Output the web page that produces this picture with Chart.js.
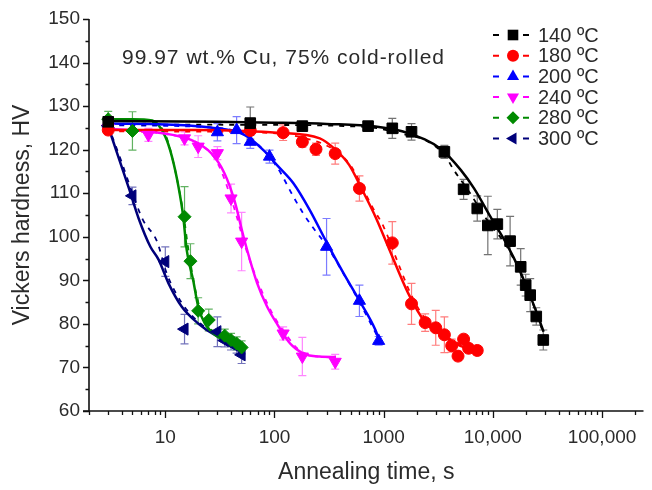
<!DOCTYPE html>
<html>
<head>
<meta charset="utf-8">
<script src="https://cdn.jsdelivr.net/npm/chart.js@4/dist/chart.umd.min.js"></script>
<style>
  html, body { margin: 0; padding: 0; background: #fff; }
  #wrap { width: 652px; height: 490px; }
</style>
</head>
<body>
<div id="wrap"><canvas id="c" width="652" height="490"></canvas></div>
<script>
// Series labels (annealing temperature)
const labels = ['140 ºC', '180 ºC', '200 ºC', '240 ºC', '280 ºC', '300 ºC'];

// Measured hardness: annealing time (s), HV, and error (±HV)
const t140 = [3, 60, 180, 720, 1200, 1800, 3600, 5400, 7200, 9000, 11000, 14400, 18000, 20000, 22000, 25000, 29000];
const hv140 = [126.4, 126.1, 125.4, 125.4, 124.9, 124.1, 119.5, 110.9, 106.5, 102.6, 102.9, 99.0, 93.1, 88.9, 86.6, 81.7, 76.3];
const err140 = [1.0, 3.7, 1.0, 1.0, 2.3, 1.9, 1.5, 2.3, 2.9, 6.7, 3.4, 5.7, 4.2, 2.5, 3.8, 2.0, 2.3];

const t180 = [3, 60, 120, 180, 240, 360, 600, 1200, 1800, 2400, 3000, 3600, 4200, 4800, 5400, 6000, 7200];
const hv180 = [124.5, 124.4, 123.9, 121.8, 120.1, 119.1, 111.1, 98.6, 84.6, 80.3, 79.1, 77.5, 75.0, 72.6, 76.5, 74.4, 73.9];
const err180 = [1.0, 1.0, 1.8, 1.2, 1.4, 2.4, 2.9, 4.9, 4.7, 2.0, 4.0, 4.1, 1.5, 1.0, 1.0, 1.0, 1.0];

const t200 = [3, 30, 45, 60, 90, 300, 600, 900];
const hv200 = [125.8, 124.0, 124.5, 121.8, 118.4, 97.7, 85.3, 76.1];
const err200 = [1.5, 2.0, 3.1, 1.5, 1.5, 6.5, 3.6, 1.0];

const t240 = [3, 7, 15, 20, 30, 40, 50, 120, 180, 360];
const hv240 = [125.0, 123.4, 122.6, 120.7, 119.2, 108.8, 98.9, 77.8, 72.5, 71.3];
const err240 = [1.5, 1.5, 1.5, 2.5, 1.5, 3.3, 6.7, 1.5, 4.4, 1.7];

const t280 = [3, 5, 15, 17, 20, 25, 35, 40, 45, 50];
const hv280 = [127.0, 124.3, 104.6, 94.4, 83.0, 80.9, 77.3, 76.3, 75.5, 74.6];
const err280 = [1.8, 4.4, 6.9, 4.0, 3.0, 2.5, 1.5, 1.5, 1.5, 1.5];

const t300 = [3, 5, 10, 15, 30, 35, 40, 45, 50];
const hv300 = [125.5, 109.4, 94.3, 78.8, 78.2, 76.2, 75.5, 74.8, 72.9];
const err300 = [1.5, 2.0, 3.4, 3.4, 3.4, 1.5, 1.5, 1.5, 2.0];

// Solid fitted softening curves (time, HV)
const fit140T = [3, 30, 100, 300, 840, 1680, 3370, 5100, 6730, 9500, 13400, 17700, 23400, 29200];
const fit140HV = [126.6, 126.4, 126.2, 125.9, 125.3, 123.8, 120.1, 115.3, 111.1, 104.6, 98.3, 92.2, 84.7, 78.2];

const fit180T = [3, 20, 53, 105, 260, 366, 483, 638, 841, 1110, 1680, 2380, 3360, 5100, 7300];
const fit180HV = [124.5, 124.5, 124.3, 123.9, 122.6, 119.9, 116.5, 110.7, 104.6, 97.5, 87.0, 80.5, 77.5, 74.9, 74.3];

const fit200T = [3, 10, 26, 53, 80, 105, 149, 210, 298, 421, 595, 841, 914];
const fit200HV = [126.0, 125.8, 125.1, 123.4, 119.8, 116.5, 112.3, 106.2, 98.9, 92.0, 85.5, 78.6, 76.1];

const fit240T = [3, 8.7, 17.4, 26.3, 34.8, 42.9, 52.7, 69.5, 85.5, 105, 139, 184, 259, 366];
const fit240HV = [124.8, 123.9, 122.2, 119.2, 114.6, 108.4, 99.5, 89.3, 84.0, 80.1, 75.5, 73.2, 72.5, 72.4];

const fit280T = [3, 5, 7.6, 10, 11.5, 13.2, 14.6, 15.7, 18, 20, 23, 30, 43, 54];
const fit280HV = [127.0, 127.0, 126.7, 123.0, 118.4, 111.5, 104.6, 97.0, 90.0, 84.0, 80.1, 77.1, 75.2, 74.0];

const fit300T = [3, 3.8, 4.7, 5.7, 7.3, 8.7, 10.7, 14.1, 20, 30, 46, 53];
const fit300HV = [125.3, 117.6, 110.7, 104.2, 97.7, 94.7, 89.3, 84.0, 80.1, 77.1, 75.2, 74.4];

// Dashed alternative-model curves (time, HV)
const dash140T = [3, 60, 700, 1500, 2400, 3600, 4400, 6000, 9000, 13400, 18000, 24000, 29500];
const dash140HV = [125.8, 125.7, 125.2, 123.6, 122.2, 118.8, 115.3, 110.5, 103.6, 97.8, 91.5, 83.8, 77.3];

const dash180T = [3, 60, 180, 360, 500, 785, 1000, 1320, 1800, 2400, 3600, 5400, 7200];
const dash180HV = [124.2, 124.0, 122.8, 119.8, 116.3, 106.9, 102.3, 94.7, 86.5, 81.2, 77.4, 75.0, 74.3];

const dash200T = [3, 30, 60, 105, 149, 183, 233, 300, 392, 600, 900];
const dash200HV = [125.6, 125.0, 122.6, 116.1, 109.2, 105.4, 101.6, 98.0, 93.2, 85.0, 76.6];

const dash240T = [3, 10, 20, 30, 41.4, 56.5, 88.6, 120, 180, 360];
const dash240HV = [124.5, 123.6, 121.5, 117.0, 107.7, 96.2, 84.0, 78.5, 73.5, 72.2];

const dash280T = [3, 7.6, 10, 12, 14.6, 16.5, 20, 25, 35, 50];
const dash280HV = [126.8, 126.3, 123.5, 116.5, 105.5, 96.0, 85.0, 79.5, 76.5, 74.4];

const dash300T = [3, 4, 5, 6.2, 8.4, 10.3, 14, 20, 30, 50];
const dash300HV = [125.5, 117.0, 110.0, 104.0, 98.9, 91.6, 85.0, 80.5, 77.6, 74.2];

// Axis ranges and tick labels
const xMin = 2, xMax = 240000;
const yMin = 60, yMax = 150, yStep = 10;
const xTickLabels = { 10: '10', 100: '100', 1000: '1000', 10000: '10,000', 100000: '100,000' };

const FONT = "'Liberation Sans', Arial, Helvetica, sans-serif";
const TEXT = '#2b2b2b';

const styles = [
  { color: '#000000', err: 'rgba(90,90,90,0.85)', shape: 'rect', rot: 0, r: 7.5 },
  { color: '#ff0000', err: 'rgba(255,110,110,0.9)', shape: 'circle', rot: 0, r: 6 },
  { color: '#0000ff', err: 'rgba(110,110,255,0.9)', shape: 'triangle', rot: 0, r: 7 },
  { color: '#ff00ff', err: 'rgba(255,120,255,0.9)', shape: 'triangle', rot: 180, r: 7 },
  { color: '#008a00', err: 'rgba(80,170,80,0.9)', shape: 'rectRot', rot: 0, r: 6.5 },
  { color: '#00007a', err: 'rgba(100,100,180,0.9)', shape: 'triangle', rot: 270, r: 7 }
];

const series = [
  { t: t140, hv: hv140, err: err140, ft: fit140T, fhv: fit140HV, dt: dash140T, dhv: dash140HV },
  { t: t180, hv: hv180, err: err180, ft: fit180T, fhv: fit180HV, dt: dash180T, dhv: dash180HV },
  { t: t200, hv: hv200, err: err200, ft: fit200T, fhv: fit200HV, dt: dash200T, dhv: dash200HV },
  { t: t240, hv: hv240, err: err240, ft: fit240T, fhv: fit240HV, dt: dash240T, dhv: dash240HV },
  { t: t280, hv: hv280, err: err280, ft: fit280T, fhv: fit280HV, dt: dash280T, dhv: dash280HV },
  { t: t300, hv: hv300, err: err300, ft: fit300T, fhv: fit300HV, dt: dash300T, dhv: dash300HV }
];

const pairs = (xs, ys) => xs.map((x, i) => ({ x, y: ys[i] }));

const datasets = [];
series.forEach((s, i) => {
  const st = styles[i];
  datasets.push({
    label: labels[i],
    data: pairs(s.t, s.hv),
    showLine: false,
    pointStyle: st.shape,
    pointRotation: st.rot,
    pointRadius: st.r,
    pointHoverRadius: st.r,
    pointBackgroundColor: st.color,
    pointBorderColor: st.color,
    pointBorderWidth: 1,
    order: 0
  });
  datasets.push({
    label: labels[i] + ' fit',
    data: pairs(s.ft, s.fhv),
    showLine: true,
    borderColor: st.color,
    borderWidth: 2.5,
    pointRadius: 0,
    cubicInterpolationMode: 'monotone',
    order: 1
  });
  datasets.push({
    label: labels[i] + ' model',
    data: pairs(s.dt, s.dhv),
    showLine: true,
    borderColor: st.color,
    borderWidth: 1.8,
    borderDash: [5, 6],
    pointRadius: 0,
    cubicInterpolationMode: 'monotone',
    order: 2
  });
});

// Error bars with caps, drawn beneath the markers
const errorBars = {
  id: 'errorBars',
  beforeDatasetsDraw(chart) {
    const { ctx, scales: { x, y } } = chart;
    ctx.save();
    ctx.lineWidth = 1.2;
    series.forEach((s, i) => {
      ctx.strokeStyle = styles[i].err;
      s.t.forEach((t, j) => {
        const px = x.getPixelForValue(t);
        const top = y.getPixelForValue(s.hv[j] + s.err[j]);
        const bot = y.getPixelForValue(s.hv[j] - s.err[j]);
        ctx.beginPath();
        ctx.moveTo(px, top); ctx.lineTo(px, bot);
        ctx.moveTo(px - 4, top); ctx.lineTo(px + 4, top);
        ctx.moveTo(px - 4, bot); ctx.lineTo(px + 4, bot);
        ctx.stroke();
      });
    });
    ctx.restore();
  }
};

// Axis lines with outward major/minor ticks
const axesFrame = {
  id: 'axesFrame',
  afterDraw(chart) {
    const { ctx, chartArea: a, scales: { x, y } } = chart;
    ctx.save();
    ctx.strokeStyle = '#111';
    ctx.lineWidth = 1.6;
    ctx.beginPath();
    ctx.moveTo(a.left, a.top); ctx.lineTo(a.left, a.bottom);
    ctx.moveTo(a.left - 6, a.bottom); ctx.lineTo(a.right, a.bottom);
    ctx.stroke();
    ctx.lineWidth = 1.3;
    ctx.beginPath();
    for (let v = yMin; v <= yMax; v += yStep / 2) {
      const py = Math.round(y.getPixelForValue(v)) + 0.5;
      const len = (v % yStep === 0) ? 6 : 3.5;
      ctx.moveTo(a.left, py); ctx.lineTo(a.left - len, py);
    }
    for (let d = 0; d <= 5; d++) {
      for (let m = 1; m <= 9; m++) {
        const v = m * Math.pow(10, d);
        if (v < xMin || v > xMax) continue;
        const px = Math.round(x.getPixelForValue(v)) + 0.5;
        const len = m === 1 ? 7 : 4;
        ctx.moveTo(px, a.bottom); ctx.lineTo(px, a.bottom + len);
      }
    }
    ctx.stroke();
    ctx.restore();
  }
};

// Material annotation and legend with dashed-line / marker samples
const annotations = {
  id: 'annotations',
  afterDraw(chart) {
    const { ctx } = chart;
    ctx.save();
    ctx.fillStyle = TEXT;
    ctx.font = '21px ' + FONT;
    ctx.textBaseline = 'middle';
    ctx.textAlign = 'left';
    if ('letterSpacing' in ctx) ctx.letterSpacing = '1px';
    ctx.fillText('99.97 wt.% Cu, 75% cold-rolled', 122, 58);
    if ('letterSpacing' in ctx) ctx.letterSpacing = '0px';

    const x0 = 513, y0 = 35, dy = 20.7;
    labels.forEach((lab, i) => {
      const st = styles[i];
      const yy = y0 + i * dy;
      ctx.strokeStyle = st.color;
      ctx.lineWidth = 2;
      ctx.beginPath();
      ctx.moveTo(x0 - 20, yy); ctx.lineTo(x0 - 14, yy);
      ctx.moveTo(x0 + 10, yy); ctx.lineTo(x0 + 16, yy);
      ctx.stroke();
      drawMarker(ctx, st, x0, yy);
      ctx.fillStyle = TEXT;
      ctx.font = '20px ' + FONT;
      ctx.fillText(lab, x0 + 25, yy + 1);
    });
    ctx.restore();
  }
};

function drawMarker(ctx, st, cx, cy) {
  ctx.save();
  ctx.fillStyle = st.color;
  ctx.translate(cx, cy);
  ctx.rotate(st.rot * Math.PI / 180);
  ctx.beginPath();
  const r = st.r;
  if (st.shape === 'rect') {
    const s = r * Math.SQRT1_2;
    ctx.rect(-s, -s, 2 * s, 2 * s);
  } else if (st.shape === 'circle') {
    ctx.arc(0, 0, r, 0, Math.PI * 2);
  } else if (st.shape === 'rectRot') {
    ctx.moveTo(0, -r); ctx.lineTo(r, 0); ctx.lineTo(0, r); ctx.lineTo(-r, 0);
  } else {
    const half = r * Math.sqrt(3) / 2;
    ctx.moveTo(0, -r); ctx.lineTo(half, r / 2); ctx.lineTo(-half, r / 2);
  }
  ctx.closePath();
  ctx.fill();
  ctx.restore();
}

new Chart(document.getElementById('c'), {
  type: 'scatter',
  data: { datasets },
  options: {
    responsive: false,
    animation: false,
    devicePixelRatio: 1,
    layout: { padding: { top: 19, right: 0, left: 0, bottom: 0 } },
    plugins: { legend: { display: false }, tooltip: { enabled: false } },
    scales: {
      x: {
        type: 'logarithmic',
        position: 'bottom',
        min: xMin,
        max: xMax,
        grid: { display: false, drawTicks: true, tickLength: 15 },
        border: { display: false },
        ticks: {
          autoSkip: false,
          maxRotation: 0,
          padding: 0,
          color: TEXT,
          font: { family: FONT, size: 19 },
          callback: (v) => xTickLabels[v] || ''
        },
        title: {
          display: true,
          text: 'Annealing time, s',
          color: TEXT,
          font: { family: FONT, size: 23 },
          padding: { top: 0, bottom: 4 }
        },
        afterFit: (s) => { s.height = 79; }
      },
      y: {
        min: yMin,
        max: yMax,
        grid: { display: false, drawTicks: true, tickLength: 9 },
        border: { display: false },
        ticks: {
          stepSize: yStep,
          padding: 0,
          color: TEXT,
          font: { family: FONT, size: 19 }
        },
        title: {
          display: true,
          text: 'Vickers hardness, HV',
          color: TEXT,
          font: { family: FONT, size: 23 },
          padding: { top: 9, bottom: 0 }
        },
        afterFit: (s) => { s.width = 89; }
      }
    }
  },
  plugins: [errorBars, axesFrame, annotations]
});
</script>
</body>
</html>
